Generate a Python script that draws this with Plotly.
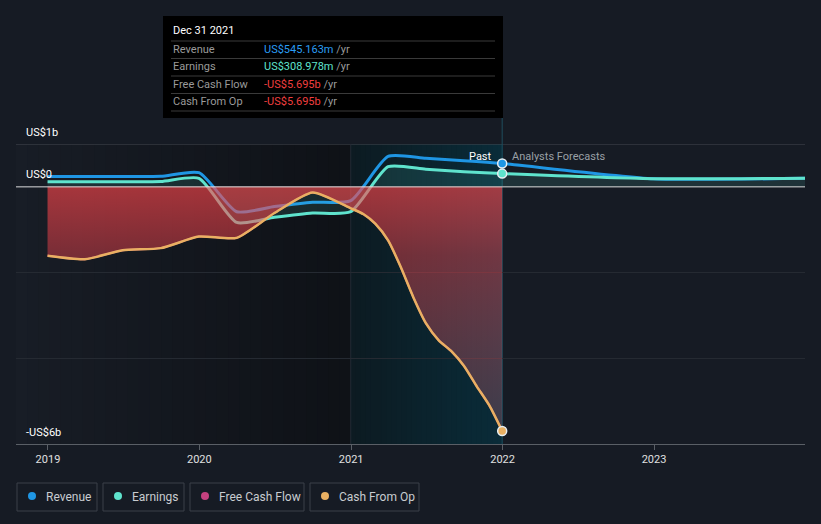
import plotly.graph_objects as go
import pandas as pd

# ---------------- data (values in US$ billions) ----------------
past_dates = ['2018-12-31', '2019-03-31', '2019-06-30', '2019-09-30', '2019-12-31',
              '2020-03-31', '2020-06-30', '2020-09-30', '2020-12-31',
              '2021-03-31', '2021-06-30', '2021-09-30', '2021-12-31']
revenue_past = [0.24, 0.24, 0.24, 0.245, 0.33, -0.58, -0.46, -0.36, -0.32,
                0.71, 0.665, 0.61, 0.545163]
earnings_past = [0.12, 0.12, 0.12, 0.125, 0.20, -0.83, -0.71, -0.61, -0.58,
                 0.47, 0.41, 0.35, 0.308978]

cash_dates = ['2018-12-31', '2019-03-31', '2019-06-30', '2019-09-30', '2019-12-31',
              '2020-03-31', '2020-06-30', '2020-09-30', '2020-12-31',
              '2021-01-31', '2021-02-28', '2021-03-31', '2021-04-30', '2021-05-31',
              '2021-06-30', '2021-07-31', '2021-08-31', '2021-09-30', '2021-10-31',
              '2021-11-30', '2021-12-31']
fcf_past = [-1.61, -1.69, -1.48, -1.43, -1.16, -1.19, -0.61, -0.13, -0.50,
            -0.64, -0.86, -1.25, -1.86, -2.58, -3.18, -3.58, -3.84, -4.18, -4.66,
            -5.10, -5.695]
cfo_past = [-1.61, -1.69, -1.48, -1.43, -1.16, -1.19, -0.61, -0.13, -0.50,
            -0.64, -0.86, -1.25, -1.86, -2.58, -3.18, -3.58, -3.84, -4.18, -4.66,
            -5.10, -5.695]

forecast_dates = ['2021-12-31', '2022-12-31', '2023-12-31']
revenue_fc = [0.545163, 0.19, 0.20]
earnings_fc = [0.308978, 0.19, 0.20]

year_ticks = ['2019-01-01', '2020-01-01', '2021-01-01', '2022-01-01', '2023-01-01']
year_labels = ['2019', '2020', '2021', '2022', '2023']
y_labels = {1: 'US$1b', 0: 'US$0', -6: '-US$6b'}

series_names = ['Revenue', 'Earnings', 'Free Cash Flow', 'Cash From Op']
series_colors = ['#1f96e4', '#5fe3cd', '#c5417f', '#e9b062']
tooltip_date = 'Dec 31 2021'

# ---------------- helpers ----------------
BG = '#161b24'
W, H = 821, 524
L, R, T, B = 16, 16, 144, 80
SM = 0.6


def px(x):
    return (x - L) / (W - L - R)


def py(y):
    return (H - B - y) / (H - T - B)


def fmt(v):
    sign = '-' if v < 0 else ''
    a = abs(v)
    if a >= 1:
        return f'{sign}US${a:.3f}b'
    return f'{sign}US${a * 1000:.3f}m'


fig = go.Figure()

# revenue
fig.add_trace(go.Scatter(x=past_dates + forecast_dates[1:], y=revenue_past + revenue_fc[1:],
                         mode='lines', line=dict(color=series_colors[0], width=3, shape='spline', smoothing=SM),
                         hoverinfo='skip', showlegend=False))
# earnings
fig.add_trace(go.Scatter(x=past_dates + forecast_dates[1:], y=earnings_past + earnings_fc[1:],
                         mode='lines', fill='tozeroy', fillcolor='rgba(94,226,204,0.12)',
                         line=dict(color=series_colors[1], width=3, shape='spline', smoothing=SM),
                         hoverinfo='skip', showlegend=False))
# free cash flow (filled)
fig.add_trace(go.Scatter(x=cash_dates, y=fcf_past, mode='lines', fill='tozeroy',
                         fillgradient=dict(type='vertical', start=-5.7, stop=0,
                                           colorscale=[[0, 'rgba(210,110,130,0.25)'],
                                                       [0.72, 'rgba(255,70,80,0.42)'],
                                                       [1, 'rgba(255,70,75,0.62)']]),
                         line=dict(color=series_colors[2], width=2, shape='spline', smoothing=SM),
                         hoverinfo='skip', showlegend=False))
# cash from op
fig.add_trace(go.Scatter(x=cash_dates, y=cfo_past, mode='lines',
                         line=dict(color=series_colors[3], width=2.5, shape='spline', smoothing=SM),
                         hoverinfo='skip', showlegend=False))
# end markers
for dts, vals, col in [(past_dates, revenue_past, series_colors[0]),
                       (past_dates, earnings_past, series_colors[1]),
                       (cash_dates, cfo_past, series_colors[3])]:
    fig.add_trace(go.Scatter(x=[dts[-1]], y=[vals[-1]], mode='markers',
                             marker=dict(size=9, color=col, line=dict(color='#e8eef2', width=1.5)),
                             hoverinfo='skip', showlegend=False))

shapes = []
# background gradient: past region (overlapping strips to avoid seams)
n = 30
start, end = pd.Timestamp('2018-10-16'), pd.Timestamp('2020-12-31')
edges = pd.date_range(start, end, periods=n + 1)
for i in range(n):
    t = i / (n - 1)
    c = (int(24 + (15 - 24) * t), int(29 + (18 - 29) * t), int(38 + (23 - 38) * t))
    shapes.append(dict(type='rect', xref='x', yref='paper', x0=edges[i], x1=end,
                       y0=0, y1=1, fillcolor=f'rgb{c}', line=dict(width=0), layer='below'))
# highlight band 2021-2022
start, end = pd.Timestamp('2020-12-31'), pd.Timestamp('2021-12-31')
edges = pd.date_range(start, end, periods=n + 1)
for i in range(n):
    t = i / (n - 1)
    c = (int(13 + (10 - 13) * t), int(27 + (44 - 27) * t), int(34 + (57 - 34) * t))
    shapes.append(dict(type='rect', xref='x', yref='paper', x0=edges[i], x1=end,
                       y0=0, y1=1, fillcolor=f'rgb{c}', line=dict(width=0), layer='below'))
# 1b gridline
shapes.append(dict(type='line', xref='paper', yref='y', x0=0, x1=1, y0=1, y1=1,
                   line=dict(color='#444951', width=1), layer='below'))
# vertical line at 2021
shapes.append(dict(type='line', xref='x', yref='paper', x0='2020-12-31', x1='2020-12-31', y0=0, y1=1,
                   line=dict(color='#232b34', width=1), layer='below'))
# hover line at 2022
shapes.append(dict(type='line', xref='x', yref='paper', x0=past_dates[-1], x1=past_dates[-1],
                   y0=0, y1=py(118), line=dict(color='#1f4d5e', width=1), layer='below'))
# zero line
shapes.append(dict(type='line', xref='paper', yref='y', x0=0, x1=1, y0=0, y1=0,
                   line=dict(color='rgba(235,235,235,0.9)', width=1), layer='above'))

# tooltip box
shapes.append(dict(type='rect', xref='paper', yref='paper', x0=px(163), x1=px(503), y0=py(118), y1=py(16),
                   fillcolor='#000000', line=dict(width=0), layer='above'))
for yy in [41, 58.5, 76, 93.5, 111]:
    shapes.append(dict(type='line', xref='paper', yref='paper', x0=px(171), x1=px(495), y0=py(yy), y1=py(yy),
                       line=dict(color='#3a3a3a', width=1), layer='above'))

annotations = []
FONT = 'Roboto'
annotations.append(dict(xref='paper', yref='paper', x=px(171), y=py(31), text=tooltip_date, showarrow=False,
                        xanchor='left', yanchor='middle', font=dict(family=FONT, size=11, color='#ffffff')))
tip_vals = [revenue_past[-1], earnings_past[-1], fcf_past[-1], cfo_past[-1]]
tip_cols = ['#2a9df4', '#5fe3cd', '#ef3f3f', '#ef3f3f']
for i, (name, v, c) in enumerate(zip(series_names, tip_vals, tip_cols)):
    yy = 49.5 + i * 17.3
    annotations.append(dict(xref='paper', yref='paper', x=px(171), y=py(yy), text=name, showarrow=False,
                            xanchor='left', yanchor='middle', font=dict(family=FONT, size=11, color='#9a9a9a')))
    annotations.append(dict(xref='paper', yref='paper', x=px(262), y=py(yy),
                            text=f"<span style='color:{c}'>{fmt(v)}</span> /yr", showarrow=False,
                            xanchor='left', yanchor='middle', font=dict(family=FONT, size=11, color='#9a9a9a')))

# y labels
for val, lab in y_labels.items():
    annotations.append(dict(xref='paper', yref='y', x=px(24), y=val, yshift=12, text=lab, showarrow=False,
                            xanchor='left', yanchor='middle', font=dict(family=FONT, size=11, color='#ffffff')))

# Past / Analysts Forecasts
annotations.append(dict(xref='x', yref='paper', x=past_dates[-1], y=py(156), xshift=-8, text='Past',
                        showarrow=False, xanchor='right', yanchor='middle',
                        font=dict(family=FONT, size=11, color='#ffffff')))
annotations.append(dict(xref='x', yref='paper', x=past_dates[-1], y=py(156), xshift=8, text='Analysts Forecasts',
                        showarrow=False, xanchor='left', yanchor='middle',
                        font=dict(family=FONT, size=11, color='#9aa0a6')))

# legend boxes
boxes = [(17, 97), (103, 184), (190, 304), (310, 419)]
for (x0, x1), name, col in zip(boxes, series_names, series_colors):
    shapes.append(dict(type='rect', xref='paper', yref='paper', x0=px(x0), x1=px(x1), y0=py(511), y1=py(483),
                       line=dict(color='#3b4049', width=1), fillcolor='rgba(0,0,0,0)', layer='above'))
    cx = x0 + 15
    shapes.append(dict(type='circle', xref='paper', yref='paper', x0=px(cx - 4), x1=px(cx + 4),
                       y0=py(500), y1=py(492), fillcolor=col, line=dict(width=0), layer='above'))
    annotations.append(dict(xref='paper', yref='paper', x=px(cx + 12), y=py(496.5), text=name, showarrow=False,
                            xanchor='left', yanchor='middle', font=dict(family=FONT, size=12, color='#c8ccd0')))

fig.update_layout(
    width=W, height=H, autosize=False,
    margin=dict(l=L, r=R, t=T, b=B, pad=0),
    paper_bgcolor=BG, plot_bgcolor=BG,
    shapes=shapes, annotations=annotations,
    showlegend=False, hovermode=False,
    font=dict(family=FONT, color='#d8d8d8'),
    xaxis=dict(type='date', range=['2018-10-16', '2023-12-31'], tickvals=year_ticks, ticktext=year_labels,
               showgrid=False, zeroline=False, showline=True, linecolor='#5a5f66', linewidth=1,
               ticks='outside', ticklen=5, tickcolor='#5a5f66',
               tickfont=dict(family=FONT, size=11, color='#e0e0e0'), fixedrange=True),
    yaxis=dict(range=[-6, 1], tickvals=[-6, -4, -2, 0, 1], showticklabels=False, showgrid=True,
               gridcolor='#252a32', zeroline=False, showline=False, fixedrange=True),
)

fig.write_html('out.html')
